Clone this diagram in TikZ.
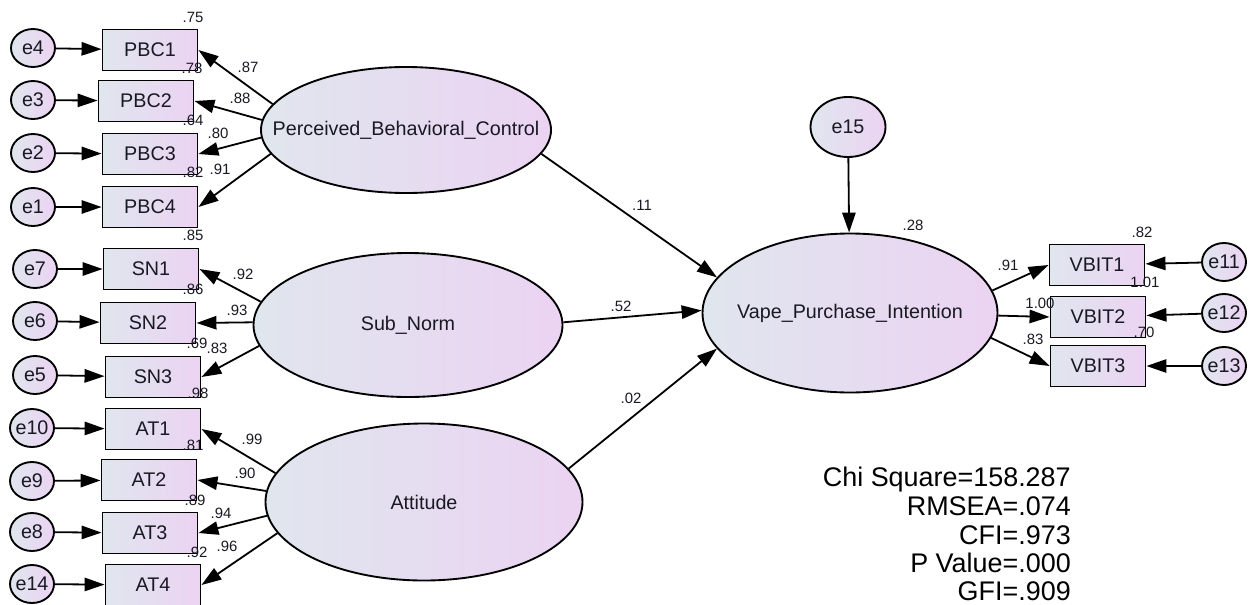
\documentclass[tikz,border=0pt]{standalone}
\usepackage{fontspec}
\setmainfont{Liberation Sans}
\usetikzlibrary{shapes.geometric,arrows.meta}
\definecolor{gl}{RGB}{224,230,238}
\definecolor{gr}{RGB}{235,211,242}
\definecolor{txt}{RGB}{25,25,35}
\newcommand{\nfnt}{\fontsize{14.8}{17}\selectfont}
\newcommand{\lfnt}{\fontsize{11.2}{13}\selectfont}
\newcommand{\sfnt}{\fontsize{20.2}{22}\selectfont}
\tikzset{
  shd/.style={left color=gl, right color=gr, draw=black, line width=1.4pt},
  obs/.style={shd, rectangle, minimum width=71.25pt, minimum height=30.75pt, inner sep=0pt, font=\nfnt, text=txt},
  errc/.style={shd, ellipse, minimum width=33pt, minimum height=28.5pt, inner sep=0pt, label={[font=\nfnt,text=txt,inner sep=0pt]center:#1}},
  lat/.style={shd, ellipse, inner sep=0pt, label={[font=\nfnt,text=txt,inner sep=0pt]center:#1}},
  arr/.style={line width=1.35pt, -{Triangle[length=15pt,width=10pt]}},
  lab/.style={font=\lfnt, text=txt, inner sep=0pt},
  stat/.style={font=\sfnt, text=black, inner sep=0pt, anchor=base east}
}
\begin{document}
\begin{tikzpicture}[x=0.75pt,y=-0.75pt]
\useasboundingbox (0,0) rectangle (1252,604);
% latent
\node[lat=Perceived\_Behavioral\_Control, minimum width=217.5pt, minimum height=94.5pt] (pbc) at (406,130) {};
\node[lat=Sub\_Norm, minimum width=231.75pt, minimum height=108pt] (sn) at (408,325) {};
\node[lat=Attitude, minimum width=237.75pt, minimum height=117.75pt] (att) at (424,502) {};
\node[lat=Vape\_Purchase\_Intention, minimum width=221.25pt, minimum height=119.25pt] (vpi) at (850,313) {};
\node[lat=e15, minimum width=56.25pt, minimum height=45pt] (e15) at (848,127) {};
% observed
\node[obs] (PBC1) at (150,50) {PBC1};
\node[obs] (PBC2) at (146,101) {PBC2};
\node[obs] (PBC3) at (150,154) {PBC3};
\node[obs] (PBC4) at (150,207) {PBC4};
\node[obs] (SN1) at (151,269) {SN1};
\node[obs] (SN2) at (148,323) {SN2};
\node[obs] (SN3) at (153,377) {SN3};
\node[obs] (AT1) at (153,429) {AT1};
\node[obs] (AT2) at (149,480) {AT2};
\node[obs] (AT3) at (150,533) {AT3};
\node[obs] (AT4) at (153,585) {AT4};
\node[obs] (VBIT1) at (1097,265) {VBIT1};
\node[obs] (VBIT2) at (1098,317) {VBIT2};
\node[obs] (VBIT3) at (1098,366) {VBIT3};
% errors
\node[errc=e4] (e4) at (33,48) {};
\node[errc=e3] (e3) at (33,100) {};
\node[errc=e2] (e2) at (33,153) {};
\node[errc=e1] (e1) at (33,207) {};
\node[errc=e7] (e7) at (35,269) {};
\node[errc=e6] (e6) at (35,321) {};
\node[errc=e5] (e5) at (35,375) {};
\node[errc=e10] (e10) at (32,428) {};
\node[errc=e9] (e9) at (32,481) {};
\node[errc=e8] (e8) at (32,532) {};
\node[errc=e14] (e14) at (32,584) {};
\node[errc=e11] (e11) at (1224,262) {};
\node[errc=e12] (e12) at (1224,313) {};
\node[errc=e13] (e13) at (1224,366) {};
% error arrows
\draw[arr] (e4) -- (PBC1);
\draw[arr] (e3) -- (PBC2);
\draw[arr] (e2) -- (PBC3);
\draw[arr] (e1) -- (PBC4);
\draw[arr] (e7) -- (SN1);
\draw[arr] (e6) -- (SN2);
\draw[arr] (e5) -- (SN3);
\draw[arr] (e10) -- (AT1);
\draw[arr] (e9) -- (AT2);
\draw[arr] (e8) -- (AT3);
\draw[arr] (e14) -- (AT4);
\draw[arr] (e11) -- (VBIT1);
\draw[arr] (e12) -- (VBIT2);
\draw[arr] (e13) -- (VBIT3);
\draw[arr] (e15) -- (vpi);
% loadings
\draw[arr] (pbc.169) -- (PBC1.east);
\draw[arr] (pbc.176) -- (PBC2.east);
\draw[arr] (pbc.183) -- (PBC3.east);
\draw[arr] (pbc.190) -- (PBC4.east);
\draw[arr] (sn.171) -- (SN1.east);
\draw[arr] (sn.179) -- (SN2.east);
\draw[arr] (sn.188) -- (SN3.east);
\draw[arr] (att.169) -- (AT1.east);
\draw[arr] (att.176) -- (AT2.east);
\draw[arr] (att.185) -- (AT3.east);
\draw[arr] (att.192) -- (AT4.east);
\draw[arr] (vpi.9) -- (VBIT1.west);
\draw[arr] (vpi.359) -- (VBIT2.west);
\draw[arr] (vpi.350) -- (VBIT3.west);
% structural
\draw[arr] (pbc.350) -- (vpi.165);
\draw[arr] (sn.1) -- (vpi.179);
\draw[arr] (att.13) -- (vpi.195);
% labels
\node[lab] (l1) at (193,17) {.75};
\node[lab] (l2) at (192,68) {.78};
\node[lab] (l3) at (193,120) {.64};
\node[lab] (l4) at (193,172) {.82};
\node[lab] (l5) at (248,67) {.87};
\node[lab] (l6) at (240,98) {.88};
\node[lab] (l7) at (218,133) {.80};
\node[lab] (l8) at (220,169) {.91};
\node[lab] (l9) at (193,235) {.85};
\node[lab] (l10) at (193,289) {.86};
\node[lab] (l11) at (197,343) {.69};
\node[lab] (l12) at (217,348) {.83};
\node[lab] (l13) at (243,274) {.92};
\node[lab] (l14) at (237,310) {.93};
\node[lab] (l15) at (198,393) {.98};
\node[lab] (l16) at (252,439) {.99};
\node[lab] (l17) at (193,445) {.81};
\node[lab] (l18) at (245,473) {.90};
\node[lab] (l19) at (195,500) {.89};
\node[lab] (l20) at (221,513) {.94};
\node[lab] (l21) at (197,552) {.92};
\node[lab] (l22) at (227,546) {.96};
\node[lab] (l23) at (1142,232) {.82};
\node[lab] (l24) at (1145,282) {1.01};
\node[lab] (l25) at (1040,303) {1.00};
\node[lab] (l26) at (1144,332) {.70};
\node[lab] (l27) at (1008,265) {.91};
\node[lab] (l28) at (1033,339) {.83};
\node[lab] (l29) at (913,225) {.28};
\node[lab] (l30) at (642,205) {.11};
\node[lab] (l31) at (621,306) {.52};
\node[lab] (l32) at (631,398) {.02};
% fit statistics
\node[stat] (s1) at (1071,486) {Chi Square=158.287};
\node[stat] (s2) at (1071,515) {RMSEA=.074};
\node[stat] (s3) at (1071,544) {CFI=.973};
\node[stat] (s4) at (1071,572) {P Value=.000};
\node[stat] (s5) at (1071,600) {GFI=.909};
\end{tikzpicture}
\end{document}
